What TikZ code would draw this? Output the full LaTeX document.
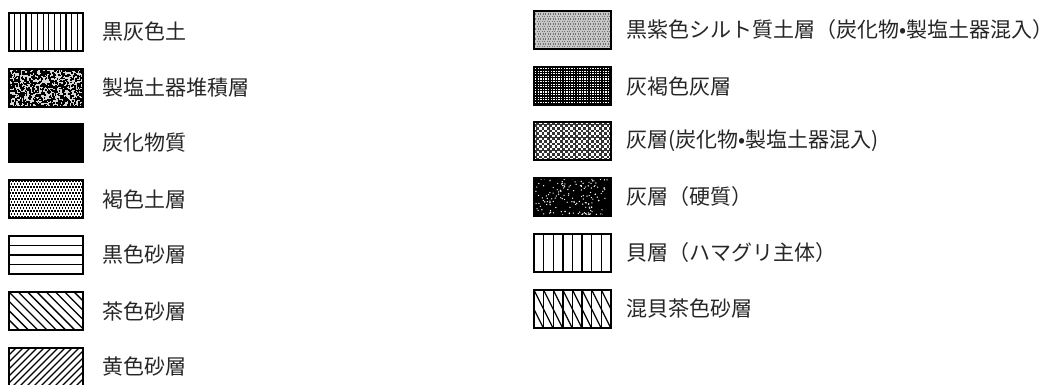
\documentclass[tikz,border=0pt]{standalone}
\usepackage{fontspec}
\newfontfamily\jp{Noto Sans CJK JP}
\begin{document}
\begin{tikzpicture}[x=1pt,y=-1pt,
  lbl/.style={anchor=west, font=\jp\fontsize{21}{21}\selectfont, inner sep=0pt, text=black!85},
  swl/.style={draw=black, line width=1.8pt, minimum width=74pt, minimum height=38pt, inner sep=0pt},
  swr/.style={draw=black, line width=1.8pt, minimum width=77pt, minimum height=38pt, inner sep=0pt},
  hl/.style={line width=1.3pt}]
\useasboundingbox (0,0) rectangle (1062,385);
\pgfmathsetseed{7}
% ---------- left column patterns ----------
\begin{scope}\clip (9,13) rectangle (83,51);
  \foreach \i in {1,...,12} \draw[hl] ({9+\i*74/13},10) -- ++(0,45);
\end{scope}
\begin{scope}\clip (9,69) rectangle (83,107);
  \fill[black!15] (5,65) rectangle (90,110);
  \foreach \i in {1,...,950} \fill[black] ({8+76*rnd},{68+40*rnd}) rectangle ++(1.7,1.7);
\end{scope}
\begin{scope}\clip (9,180) rectangle (83,218);
  \foreach \r in {0,...,13} \foreach \c in {0,...,25}
    \fill[black] ({9+\c*3+mod(\r,2)*1.5},{180+\r*3}) rectangle ++(1.6,1.6);
\end{scope}
\begin{scope}\clip (9,236) rectangle (83,274);
  \foreach \k in {1,2,3} \draw[hl] (5,{236+\k*9.5}) -- (90,{236+\k*9.5});
\end{scope}
\begin{scope}\clip (9,292) rectangle (83,330);
  \foreach \i in {-5,...,8} \draw[hl] ({9+\i*9.3},292) -- ++(40,40);
\end{scope}
\begin{scope}\clip (9,348) rectangle (83,386);
  \foreach \i in {0,...,18} \draw[hl] ({9+\i*7},348) -- ++(-45,45);
\end{scope}
% ---------- left column frames ----------
\node[swl] (b1) at (46,32) {};
\node[swl] (b2) at (46,88) {};
\node[swl, fill=black] (b3) at (46,143) {};
\node[swl] (b4) at (46,199) {};
\node[swl] (b5) at (46,255) {};
\node[swl] (b6) at (46,311) {};
\node[swl] (b7) at (46,367) {};
\node[lbl] (t1) at (102,32) {黒灰色土};
\node[lbl] (t2) at (102,88) {製塩土器堆積層};
\node[lbl] (t3) at (102,143) {炭化物質};
\node[lbl] (t4) at (102,199) {褐色土層};
\node[lbl] (t5) at (102,255) {黒色砂層};
\node[lbl] (t6) at (102,311) {茶色砂層};
\node[lbl] (t7) at (102,367) {黄色砂層};
% ---------- right column patterns ----------
\begin{scope}\clip (534,11) rectangle (611,49);
  \fill[black!22] (530,5) rectangle (615,55);
  \foreach \r in {0,...,15} \foreach \c in {0,...,31}
    \fill[black!55] ({534+\c*2.5+mod(\r,2)*1.25},{11+\r*2.5}) rectangle ++(1.2,1.2);
\end{scope}
\begin{scope}\clip (534,67) rectangle (611,105);
  \fill[black] (530,60) rectangle (615,110);
  \foreach \r in {0,...,14} \foreach \c in {0,...,29}
    \fill[white] ({535+\c*2.6},{68+\r*2.6}) rectangle ++(1.3,1.3);
\end{scope}
\begin{scope}\clip (534,122) rectangle (611,160);
  \fill[black!80] (530,115) rectangle (615,165);
  \foreach \r in {0,...,14} \foreach \c in {0,...,14}
    \fill[white] ({534+\c*5.2+mod(\r,2)*2.6},{122+\r*2.6}) rectangle ++(2.4,2.4);
\end{scope}
\begin{scope}\clip (534,178) rectangle (611,216);
  \fill[black] (530,170) rectangle (615,220);
  \foreach \i in {1,...,170} \fill[white] ({534+77*rnd},{178+38*rnd}) circle (0.7);
\end{scope}
\begin{scope}\clip (534,234) rectangle (611,272);
  \foreach \k in {1,...,7} \draw[hl] ({534+\k*77/8},230) -- ++(0,48);
\end{scope}
\begin{scope}\clip (534,290) rectangle (611,328);
  \foreach \k in {1,...,7} \draw[hl] ({534+\k*77/8},285) -- ++(0,48);
  \foreach \k in {-3,...,8} \draw[hl] ({534+\k*77/8},290) -- ++(19,38);
\end{scope}
% ---------- right column frames ----------
\node[swr] (c1) at (572.5,30) {};
\node[swr] (c2) at (572.5,86) {};
\node[swr] (c3) at (572.5,141) {};
\node[swr] (c4) at (572.5,197) {};
\node[swr] (c5) at (572.5,253) {};
\node[swr] (c6) at (572.5,309) {};
\node[lbl] (u1) at (626,30) {黒紫色シルト質土層（炭化物•製塩土器混入）};
\node[lbl] (u2) at (626,86) {灰褐色灰層};
\node[lbl] (u3) at (626,141) {灰層(炭化物•製塩土器混入)};
\node[lbl] (u4) at (626,197) {灰層（硬質）};
\node[lbl] (u5) at (626,253) {貝層（ハマグリ主体）};
\node[lbl] (u6) at (626,309) {混貝茶色砂層};
\end{tikzpicture}
\end{document}
